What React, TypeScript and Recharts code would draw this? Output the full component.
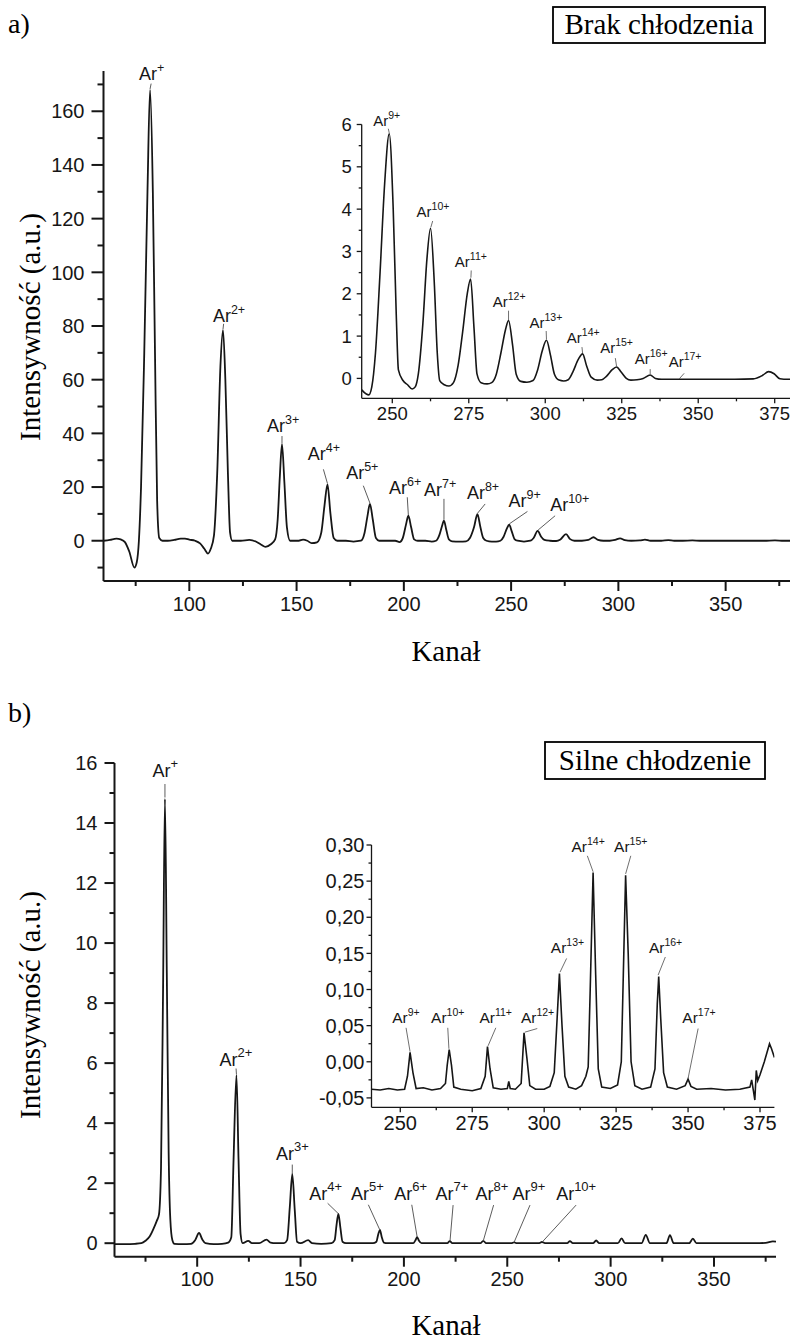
import React from 'react';
import { LineChart, Line, XAxis, YAxis, ReferenceLine, ReferenceDot } from 'recharts';

type Pt = [number, number];
type Lab = { charge: string; tx: number; ty: number; lx: number; ly: number; px: number; py: number };

const SANS = '"Liberation Sans", Arial, Helvetica, sans-serif';
const SERIF = '"Liberation Serif", "Times New Roman", Times, serif';
const INK = '#161616';
const LEAD = '#4a4a4a';

// ---------- (a) Brak chłodzenia: main spectrum ----------
const spectrumA: Pt[] = [
  [60, 0], [63, 0.3], [66, 0.8], [68, 0.5], [70, -0.5], [72, -4], [74.4, -10], [75.5, -8], [76.5, 0],
  [77.5, 20], [79, 70], [80.5, 130], [81.7, 168], [83, 130], [84, 70], [85, 15], [86, 1], [87.5, 0],
  [90, 0], [93, 0.3], [96, 0.8], [98, 0.8], [100, 0.4], [102.7, 0], [105, -1], [107, -3], [108.7, -4.8],
  [110, -3], [111.5, 2], [113, 25], [114.5, 65], [115.7, 78.5], [116.8, 60], [118, 25], [119, 3], [120, 0],
  [124, 0], [128, 0.3], [131, -0.3], [133.5, -1.5], [135.5, -2.3], [138, -1.3], [140, 0.5], [141.2, 8],
  [142.2, 24], [143.2, 36], [144.3, 22], [145.5, 5], [147, 0], [151, 0], [153, 0.4], [155, 0], [157, -0.9],
  [159.5, -0.6], [161.5, 3], [163, 13], [164.4, 21], [165.8, 10], [167.3, 1], [169, 0], [173, 0], [176.5, -0.3],
  [180, 0], [181.7, 3], [183, 9], [184.2, 13.7], [185.5, 8], [187, 1], [188.5, 0], [193, 0], [196, 0],
  [198, -0.5], [199.5, 1], [201, 6], [202.1, 9.3], [203.4, 5], [204.8, 0.5], [206.5, 0], [210, 0],
  [213, -0.3], [215, 0], [216.5, 2], [217.8, 5.5], [218.7, 7.5], [219.8, 4], [221, 0.5], [222.5, -0.2],
  [226, -0.3], [229, -0.2], [230.8, 1], [232.7, 5], [234.3, 9.9], [235.7, 5], [237, 1], [238.5, 0],
  [241, -0.3], [243, -0.3], [245, 0], [246.5, 1.5], [248, 4.5], [249.1, 6], [250.3, 3.5], [251.7, 0.5],
  [253, 0], [256, -0.3], [259, 0], [260.5, 1], [262.4, 3.7], [264, 1.5], [265.5, 0.3], [268, 0],
  [271, -0.1], [273, 0.5], [275.6, 2.5], [277.5, 0.6], [279.5, 0], [283, 0], [286, 0.3], [288.4, 1.3],
  [290.5, 0.3], [293, 0], [296, 0], [298.5, 0.3], [300.8, 0.9], [303, 0.2], [306, 0], [310, 0.1],
  [312.4, 0.45], [315, 0], [320, 0], [323.3, 0.25], [326, 0], [330, 0], [334.5, 0.1], [338, 0],
  [368, 0], [373, 0.15], [377, 0], [380, 0],
];

// ---------- (a) inset ----------
const spectrumAInset: Pt[] = [
  [240, -0.27], [241.5, -0.37], [242.3, -0.39], [243.3, -0.2], [244.5, 0.6], [246, 2.5], [247.5, 4.6],
  [249, 5.78], [250.3, 4], [251.3, 1.5], [252, 0.2], [253.5, -0.05], [255, -0.15], [256.5, -0.25],
  [257.5, -0.2], [258.5, 0.1], [260, 1.3], [261.3, 2.8], [262.5, 3.55], [263.7, 2.3], [264.7, 0.6],
  [265.5, -0.05], [267, -0.15], [268.5, -0.18], [270, -0.1], [271.5, 0.3], [273, 1.1], [274.5, 2.0],
  [275.6, 2.35], [276.7, 1.2], [277.7, 0.1], [279, -0.1], [281, -0.13], [282.5, -0.1], [284, 0.1],
  [285.5, 0.6], [287, 1.15], [288, 1.37], [289.3, 0.8], [290.5, 0.1], [292, -0.07], [294, -0.09],
  [296, -0.05], [297.5, 0.2], [299, 0.65], [300.4, 0.9], [301.7, 0.55], [303, 0.1], [304.5, -0.04],
  [306, -0.06], [307.5, -0.03], [309, 0.15], [310.8, 0.45], [312.2, 0.58], [313.5, 0.3], [315, 0.03],
  [317, -0.04], [318.5, -0.03], [320, 0.05], [321.8, 0.2], [323.3, 0.27], [324.8, 0.15], [326.5, 0],
  [328, -0.04], [330, -0.03], [332, 0], [334.3, 0.08], [336, 0], [338, -0.02], [350, -0.02],
  [362, -0.02], [368, -0.01], [371, 0.07], [373, 0.16], [374.8, 0.11], [376.7, -0.01], [378, -0.02],
  [380, -0.02],
];

// ---------- (b) Silne chłodzenie: main spectrum ----------
const spectrumB: Pt[] = [
  [60, -0.03], [65, -0.03], [70, -0.02], [73, 0], [75, 0.08], [77, 0.22], [79, 0.5], [80.5, 0.75],
  [81.5, 0.95], [82.5, 2.5], [83.5, 8.5], [84.4, 14.8], [85.3, 9], [86.2, 3], [87, 0.8], [88, 0.1],
  [89, -0.02], [93, -0.03], [97, -0.02], [99, 0.1], [100.9, 0.34], [102.5, 0.12], [104, 0], [108, -0.03],
  [112, -0.02], [115, 0.02], [116.5, 0.2], [117.6, 2.8], [119, 5.6], [120, 2.8], [121, 0.3], [122, 0],
  [124.7, 0.08], [126.5, 0], [130, 0], [133.5, 0.12], [135.5, 0.02], [138, 0], [142, 0], [143.5, 0.1],
  [144.8, 1.2], [146, 2.3], [147.2, 1.1], [148.3, 0.05], [150, 0], [153.7, 0.1], [155.5, 0], [160, -0.02],
  [165, 0], [166.5, 0.1], [167.4, 0.6], [168.3, 0.98], [169.3, 0.5], [170.3, 0.05], [172, 0], [178, 0],
  [185, 0], [186.7, 0.05], [187.6, 0.3], [188.4, 0.44], [189.3, 0.2], [190.3, 0.02], [192, 0], [200, 0],
  [204.5, 0], [205.6, 0.1], [206.4, 0.2], [207.3, 0.08], [208.5, 0], [215, 0], [221, 0], [222.2, 0.07],
  [223.4, 0], [237, 0], [238.4, 0.08], [239.8, 0], [252, 0], [253.3, 0.03], [254.6, 0], [265.5, 0],
  [266.8, 0.04], [268.2, 0], [279, 0], [280.3, 0.07], [281.7, 0], [291.5, 0], [293, 0.09], [294.5, 0],
  [303.5, 0], [305.3, 0.16], [307, 0], [315, 0], [317, 0.28], [319, 0], [327, 0], [328.7, 0.27],
  [330.5, 0], [338, 0], [339.8, 0.15], [341.5, 0], [350, 0], [360, 0], [370, 0], [375, 0.01],
  [378.5, 0.06], [380, 0.05],
];

// ---------- (b) inset ----------
const spectrumBInset: Pt[] = [
  [240, -0.038], [243, -0.039], [246, -0.037], [249, -0.039], [251.5, -0.038], [252.5, -0.02],
  [253.4, 0.013], [254.4, -0.015], [255.5, -0.037], [258, -0.036], [261, -0.039], [264, -0.037],
  [265.7, -0.03], [266.3, -0.005], [267, 0.017], [267.8, -0.005], [268.6, -0.035], [271, -0.038],
  [275, -0.04], [278, -0.037], [279.5, -0.02], [280.3, 0.021], [281.2, -0.01], [282.3, -0.036],
  [285, -0.038], [287.2, -0.037], [287.7, -0.027], [288.2, -0.037], [290, -0.038], [292, -0.03],
  [293, 0.04], [294, 0.005], [295, -0.033], [297, -0.038], [300, -0.038], [302, -0.034], [303.5, -0.015],
  [304.5, 0.06], [305.3, 0.122], [306.2, 0.05], [307.2, -0.02], [308.5, -0.035], [311, -0.038],
  [313, -0.033], [314.5, -0.02], [315.3, -0.007], [316, 0.1], [317, 0.262], [317.9, 0.12], [318.8, -0.01],
  [320, -0.035], [323, -0.037], [325.5, -0.032], [326.8, 0.0], [327.5, 0.12], [328.3, 0.258],
  [329.2, 0.15], [330.2, 0.0], [331.5, -0.033], [334, -0.038], [337, -0.035], [338.5, -0.01],
  [339.3, 0.08], [339.8, 0.118], [340.5, 0.06], [341.5, -0.015], [342.8, -0.035], [346, -0.038],
  [349, -0.033], [350, -0.024], [351, -0.034], [353, -0.038], [358, -0.037], [363, -0.039],
  [368, -0.038], [371.5, -0.035], [372.1, -0.025], [372.7, -0.04], [373.2, -0.053], [373.7, -0.012],
  [374.2, -0.026], [375, -0.018], [376.5, 0.0], [378.3, 0.025], [379, 0.018], [380, 0.006],
];

// ---------- peak annotations (text centre / baseline, leader start, peak) ----------
const labelsA: Lab[] = [
  { charge: '+', tx: 80.7, ty: 171.5, lx: 82.2, ly: 170.3, px: 81.7, py: 168.3 },
  { charge: '2+', tx: 115.2, ty: 81.5, lx: 116, ly: 80.8, px: 115.7, py: 78.8 },
  { charge: '3+', tx: 140.4, ty: 40.4, lx: 143.2, ly: 39, px: 143.2, py: 36.3 },
  { charge: '4+', tx: 159.4, ty: 29.9, lx: 162.5, ly: 26.6, px: 164.4, py: 21.3 },
  { charge: '5+', tx: 177.3, ty: 23, lx: 181.1, ly: 20.5, px: 184.2, py: 14 },
  { charge: '6+', tx: 197.3, ty: 17.4, lx: 201.6, ly: 16.2, px: 202.1, py: 9.6 },
  { charge: '7+', tx: 213.6, ty: 16.8, lx: 218.7, ly: 15.6, px: 218.7, py: 7.8 },
  { charge: '8+', tx: 233.6, ty: 15.5, lx: 237.9, ly: 13.7, px: 234.3, py: 10.2 },
  { charge: '9+', tx: 253, ty: 12.4, lx: 257.6, ly: 10.9, px: 249.2, py: 6.3 },
  { charge: '10+', tx: 272.4, ty: 11.2, lx: 270.5, ly: 9.3, px: 262.6, py: 4 },
];

const labelsAInset: Lab[] = [
  { charge: '9+', tx: 246.2, ty: 5.97, lx: 248.7, ly: 5.9, px: 249, py: 5.8 },
  { charge: '10+', tx: 260.4, ty: 3.82, lx: 263.2, ly: 3.72, px: 262.6, py: 3.57 },
  { charge: '11+', tx: 272.9, ty: 2.64, lx: 275.8, ly: 2.55, px: 275.7, py: 2.38 },
  { charge: '12+', tx: 285.3, ty: 1.69, lx: 288, ly: 1.6, px: 288, py: 1.38 },
  { charge: '13+', tx: 297.3, ty: 1.2, lx: 300.3, ly: 1.12, px: 300.4, py: 0.92 },
  { charge: '14+', tx: 309.5, ty: 0.83, lx: 312, ly: 0.74, px: 312.2, py: 0.6 },
  { charge: '15+', tx: 320.4, ty: 0.59, lx: 322.9, ly: 0.48, px: 323.3, py: 0.29 },
  { charge: '16+', tx: 331.7, ty: 0.34, lx: 334.3, ly: 0.22, px: 334.3, py: 0.1 },
  { charge: '17+', tx: 342.8, ty: 0.26, lx: 345.4, ly: 0.12, px: 343.8, py: -0.01 },
];

const labelsB: Lab[] = [
  { charge: '+', tx: 82.7, ty: 15.55, lx: 84.4, ly: 15.3, px: 84.4, py: 14.85 },
  { charge: '2+', tx: 115.2, ty: 5.9, lx: 118.8, ly: 5.82, px: 119, py: 5.62 },
  { charge: '3+', tx: 142.5, ty: 2.78, lx: 146, ly: 2.62, px: 146, py: 2.3 },
  { charge: '4+', tx: 158.6, ty: 1.44, lx: 163.1, ly: 1.33, px: 168.2, py: 0.99 },
  { charge: '5+', tx: 178.8, ty: 1.44, lx: 182.8, ly: 1.28, px: 188.3, py: 0.45 },
  { charge: '6+', tx: 199.7, ty: 1.44, lx: 203.8, ly: 1.28, px: 206.4, py: 0.21 },
  { charge: '7+', tx: 219.6, ty: 1.43, lx: 223.8, ly: 1.27, px: 222.3, py: 0.07 },
  { charge: '8+', tx: 239, ty: 1.43, lx: 243.4, ly: 1.27, px: 238.4, py: 0.08 },
  { charge: '9+', tx: 256.9, ty: 1.43, lx: 261, ly: 1.27, px: 253.3, py: 0.03 },
  { charge: '10+', tx: 278, ty: 1.43, lx: 283.3, ly: 1.27, px: 266.8, py: 0.03 },
];

const labelsBInset: Lab[] = [
  { charge: '9+', tx: 249.9, ty: 0.053, lx: 252, ly: 0.047, px: 253.4, py: 0.014 },
  { charge: '10+', tx: 263.4, ty: 0.053, lx: 266.5, ly: 0.047, px: 266.9, py: 0.018 },
  { charge: '11+', tx: 280.2, ty: 0.053, lx: 283.2, ly: 0.047, px: 280.5, py: 0.022 },
  { charge: '12+', tx: 294.6, ty: 0.053, lx: 297.6, ly: 0.046, px: 293.3, py: 0.041 },
  { charge: '13+', tx: 305, ty: 0.15, lx: 307.8, ly: 0.143, px: 305.5, py: 0.124 },
  { charge: '14+', tx: 312.2, ty: 0.291, lx: 315, ly: 0.285, px: 317, py: 0.263 },
  { charge: '15+', tx: 327, ty: 0.291, lx: 330.1, ly: 0.285, px: 328.3, py: 0.26 },
  { charge: '16+', tx: 339.1, ty: 0.15, lx: 342.1, ly: 0.145, px: 339.6, py: 0.12 },
  { charge: '17+', tx: 350.7, ty: 0.053, lx: 353.5, ly: 0.046, px: 350, py: -0.023 },
];

// ---------- ticks ----------
const mainXMajor = [100, 150, 200, 250, 300, 350];
const mainXMinor = [75, 125, 175, 225, 275, 325, 375];
const mainAYMajor = [0, 20, 40, 60, 80, 100, 120, 140, 160];
const mainAYMinor = [-10, 10, 30, 50, 70, 90, 110, 130, 150, 170];
const insetXMajor = [250, 275, 300, 325, 350, 375];
const insetXMinor = [262.5, 287.5, 312.5, 337.5, 362.5];
const insetAYMajor = [0, 1, 2, 3, 4, 5, 6];
const insetAYMinor = [0.5, 1.5, 2.5, 3.5, 4.5, 5.5];
const mainBYMajor = [0, 2, 4, 6, 8, 10, 12, 14, 16];
const mainBYMinor = [1, 3, 5, 7, 9, 11, 13, 15];
const insetBYMajor = [-0.05, 0, 0.05, 0.1, 0.15, 0.2, 0.25, 0.3];
const insetBYMinor = [-0.025, 0.025, 0.075, 0.125, 0.175, 0.225, 0.275];

const toRows = (pts: Pt[]) => pts.map(([x, y]) => ({ x, y }));
const plain = (v: number) => String(v);
const comma = (v: number) => v.toFixed(2).replace('.', ',');

type TickCfg = { majors: number[]; fmt: (v: number) => string; maj: number; min: number; gap: number; fs: number; sw: number };

const makeYTick = (c: TickCfg) => (props: any) => {
  const { x, y, payload } = props;
  const v = payload.value;
  const isMaj = c.majors.includes(v);
  const len = isMaj ? c.maj : c.min;
  return (
    <g>
      <line x1={x - len} y1={y} x2={x} y2={y} stroke={INK} strokeWidth={c.sw} />
      {isMaj && (
        <text x={x - len - c.gap} y={y + c.fs * 0.36} textAnchor="end" fontSize={c.fs} fontFamily={SANS} fill={INK}>
          {c.fmt(v)}
        </text>
      )}
    </g>
  );
};

const makeXTick = (c: TickCfg) => (props: any) => {
  const { x, y, payload } = props;
  const v = payload.value;
  const isMaj = c.majors.includes(v);
  const len = isMaj ? c.maj : c.min;
  return (
    <g>
      <line x1={x} y1={y} x2={x} y2={y + len} stroke={INK} strokeWidth={c.sw} />
      {isMaj && (
        <text x={x} y={y + len + c.gap + c.fs * 0.72} textAnchor="middle" fontSize={c.fs} fontFamily={SANS} fill={INK}>
          {c.fmt(v)}
        </text>
      )}
    </g>
  );
};

function ArLabel(props: any) {
  const { cx, cy, charge, fs, sfs, rise } = props;
  return (
    <g>
      <text x={cx} y={cy} textAnchor="middle" fontSize={fs} fontFamily={SANS} fill={INK}>Ar</text>
      <text x={cx + fs * 0.5} y={cy - rise} textAnchor="start" fontSize={sfs} fontFamily={SANS} fill={INK}>{charge}</text>
    </g>
  );
}

function annotations(labels: Lab[], fs: number, sfs: number, rise: number, lw: number) {
  const out: any[] = [];
  labels.forEach((l, i) => {
    out.push(
      <ReferenceLine
        key={`ld${i}`}
        segment={[{ x: l.lx, y: l.ly }, { x: l.px, y: l.py }]}
        stroke={LEAD}
        strokeWidth={lw}
        ifOverflow="visible"
      />
    );
    out.push(
      <ReferenceDot
        key={`lb${i}`}
        x={l.tx}
        y={l.ty}
        r={0}
        ifOverflow="visible"
        shape={(p: any) => <ArLabel cx={p.cx} cy={p.cy} charge={l.charge} fs={fs} sfs={sfs} rise={rise} />}
      />
    );
  });
  return out;
}

export default function App() {
  const mainAData = toRows(spectrumA);
  const insetAData = toRows(spectrumAInset);
  const mainBData = toRows(spectrumB);
  const insetBData = toRows(spectrumBInset);

  const mainX: TickCfg = { majors: mainXMajor, fmt: plain, maj: 10, min: 5, gap: 6, fs: 20, sw: 2 };
  const mainAY: TickCfg = { majors: mainAYMajor, fmt: plain, maj: 12, min: 6, gap: 7, fs: 20, sw: 2 };
  const mainBY: TickCfg = { majors: mainBYMajor, fmt: plain, maj: 10, min: 5, gap: 7, fs: 20, sw: 2 };
  const insX: TickCfg = { majors: insetXMajor, fmt: plain, maj: 5, min: 3, gap: 3, fs: 18.5, sw: 1.3 };
  const insAY: TickCfg = { majors: insetAYMajor, fmt: plain, maj: 5, min: 3, gap: 5, fs: 18.5, sw: 1.3 };
  const insBX: TickCfg = { majors: insetXMajor, fmt: plain, maj: 5, min: 3, gap: 3, fs: 20, sw: 1.3 };
  const insBY: TickCfg = { majors: insetBYMajor, fmt: comma, maj: 5, min: 3, gap: 2, fs: 20, sw: 1.3 };

  return (
    <div style={{ position: 'absolute', left: 0, top: 0, width: 795, height: 1340, background: '#fff', overflow: 'hidden' }}>
      {/* (a) main */}
      <div style={{ position: 'absolute', left: 0, top: 0 }}>
        <LineChart width={795} height={700} data={mainAData} margin={{ top: 71, right: 5, left: 0, bottom: 0 }}>
          <XAxis type="number" dataKey="x" domain={[60, 380]} allowDataOverflow ticks={[...mainXMajor, ...mainXMinor]}
            interval={0} tickSize={0} tickMargin={0} height={119} axisLine={{ stroke: INK, strokeWidth: 2 }} tick={makeXTick(mainX)} />
          <YAxis type="number" domain={[-15, 175]} allowDataOverflow ticks={[...mainAYMajor, ...mainAYMinor]}
            interval={0} tickSize={0} tickMargin={0} width={103.5} axisLine={{ stroke: INK, strokeWidth: 2 }} tick={makeYTick(mainAY)} />
          <Line type="monotone" dataKey="y" stroke={INK} strokeWidth={1.8} dot={false} isAnimationActive={false} />
          {annotations(labelsA, 18, 12.5, 8, 0.9)}
        </LineChart>
      </div>

      {/* (a) inset */}
      <div style={{ position: 'absolute', left: 300, top: 100 }}>
        <LineChart width={495} height={340} data={insetAData} margin={{ top: 24.5, right: 5, left: 0, bottom: 0 }}>
          <XAxis type="number" dataKey="x" domain={[240, 380]} allowDataOverflow ticks={[...insetXMajor, ...insetXMinor]}
            interval={0} tickSize={0} tickMargin={0} height={41.7} axisLine={{ stroke: INK, strokeWidth: 1.3 }} tick={makeXTick(insX)} />
          <YAxis type="number" domain={[-0.47, 6]} allowDataOverflow ticks={[...insetAYMajor, ...insetAYMinor]}
            interval={0} tickSize={0} tickMargin={0} width={61.7} axisLine={{ stroke: INK, strokeWidth: 1.3 }} tick={makeYTick(insAY)} />
          <Line type="monotone" dataKey="y" stroke={INK} strokeWidth={1.6} dot={false} isAnimationActive={false} />
          {annotations(labelsAInset, 15, 10.5, 7, 0.8)}
        </LineChart>
      </div>

      {/* (b) main */}
      <div style={{ position: 'absolute', left: 0, top: 700 }}>
        <LineChart width={795} height={640} data={mainBData} margin={{ top: 63, right: 19, left: 0, bottom: 0 }}>
          <XAxis type="number" dataKey="x" domain={[60, 380]} allowDataOverflow ticks={[...mainXMajor, ...mainXMinor]}
            interval={0} tickSize={0} tickMargin={0} height={83.3} axisLine={{ stroke: INK, strokeWidth: 2 }} tick={makeXTick({ ...mainX, gap: 5 })} />
          <YAxis type="number" domain={[-0.45, 16]} allowDataOverflow ticks={[...mainBYMajor, ...mainBYMinor]}
            interval={0} tickSize={0} tickMargin={0} width={114.5} axisLine={{ stroke: INK, strokeWidth: 2 }} tick={makeYTick(mainBY)} />
          <Line type="monotone" dataKey="y" stroke={INK} strokeWidth={1.8} dot={false} isAnimationActive={false} />
          {annotations(labelsB, 18, 13, 9, 0.9)}
        </LineChart>
      </div>

      {/* (b) inset */}
      <div style={{ position: 'absolute', left: 300, top: 800 }}>
        <LineChart width={495} height={340} data={insetBData} margin={{ top: 45, right: 20.6, left: 0, bottom: 0 }}>
          <XAxis type="number" dataKey="x" domain={[240, 380]} allowDataOverflow ticks={[...insetXMajor, ...insetXMinor]}
            interval={0} tickSize={0} tickMargin={0} height={32.7} axisLine={{ stroke: INK, strokeWidth: 1.3 }} tick={makeXTick(insBX)} />
          <YAxis type="number" domain={[-0.063, 0.3]} allowDataOverflow ticks={[...insetBYMajor, ...insetBYMinor]}
            interval={0} tickSize={0} tickMargin={0} width={71.5} axisLine={{ stroke: INK, strokeWidth: 1.3 }} tick={makeYTick(insBY)} />
          <Line type="linear" dataKey="y" stroke={INK} strokeWidth={1.6} dot={false} isAnimationActive={false} />
          {annotations(labelsBInset, 15.5, 10.5, 7, 0.8)}
        </LineChart>
      </div>

      {/* titles and panel captions */}
      <svg width={795} height={1340} style={{ position: 'absolute', left: 0, top: 0, pointerEvents: 'none' }}>
        <g fontFamily={SERIF} fill="#000">
          <text x={8} y={33} fontSize={28}>a)</text>
          <text x={8} y={722} fontSize={28}>b)</text>

          <rect x={553} y={7} width={212} height={36} fill="#fff" stroke="#000" strokeWidth={1.8} />
          <text x={659} y={34} fontSize={29} textAnchor="middle">Brak chłodzenia</text>

          <rect x={545} y={742} width={220} height={37} fill="#fff" stroke="#000" strokeWidth={1.8} />
          <text x={655} y={770} fontSize={29} textAnchor="middle">Silne chłodzenie</text>

          <text x={30} y={327} fontSize={29} textAnchor="middle" dominantBaseline="central" transform="rotate(-90 30 327)">Intensywność (a.u.)</text>
          <text x={30} y={1005} fontSize={29} textAnchor="middle" dominantBaseline="central" transform="rotate(-90 30 1005)">Intensywność (a.u.)</text>

          <text x={446} y={661} fontSize={29} textAnchor="middle">Kanał</text>
          <text x={446} y={1335} fontSize={29} textAnchor="middle">Kanał</text>
        </g>
      </svg>
    </div>
  );
}
